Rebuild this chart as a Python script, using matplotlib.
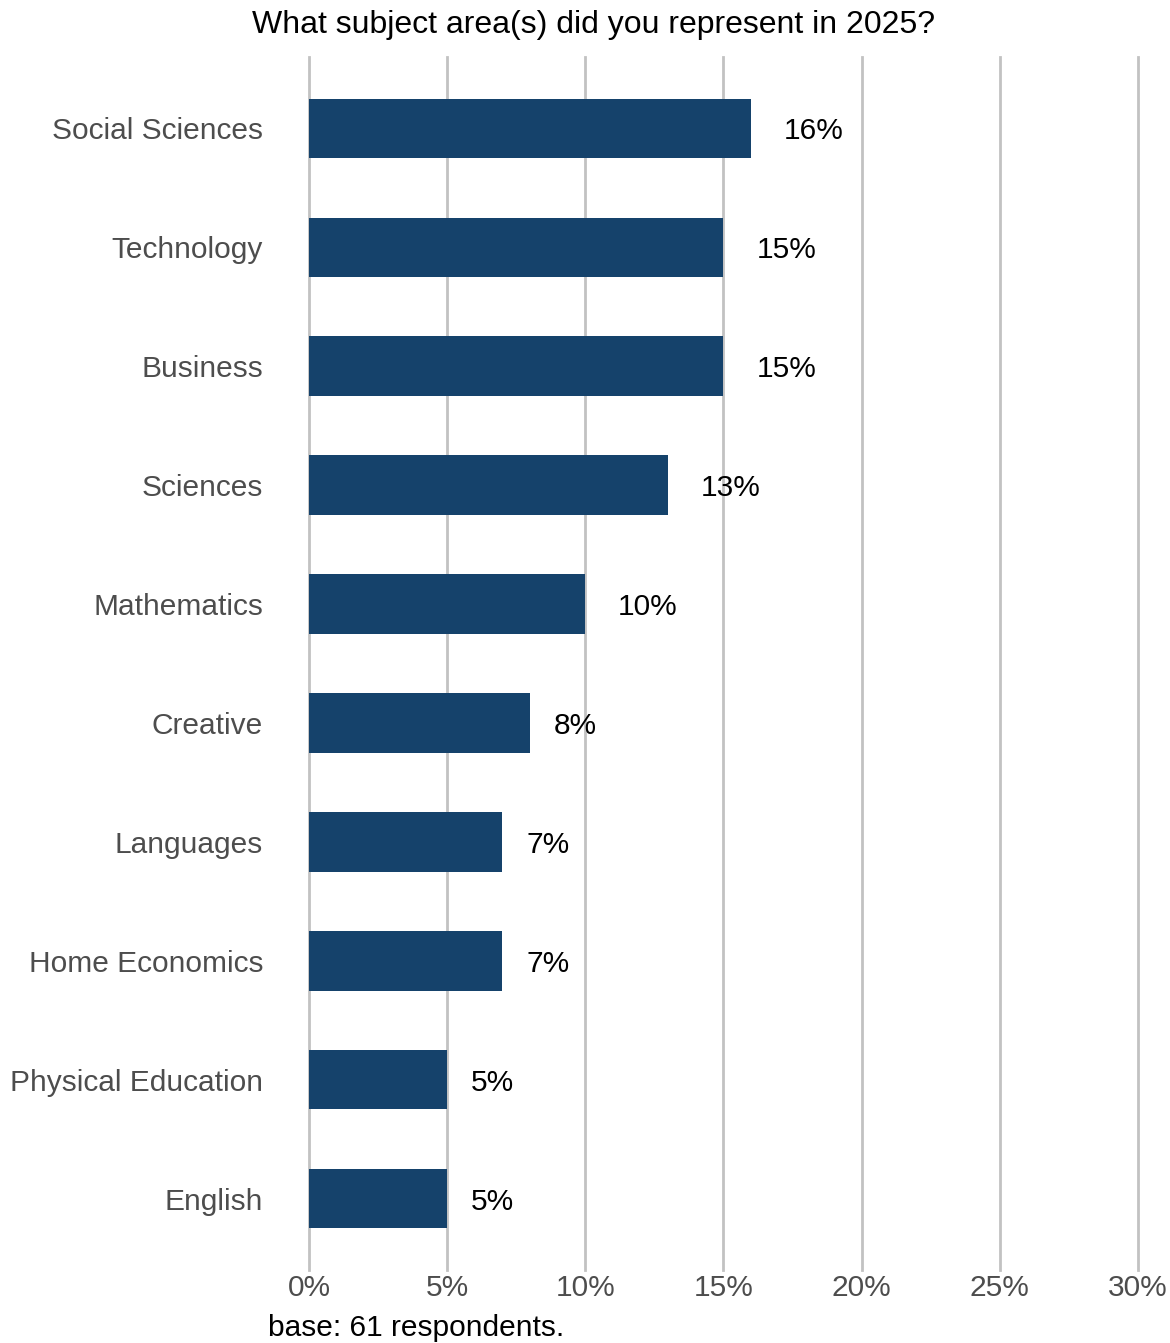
import matplotlib
matplotlib.use("Agg")
import matplotlib.pyplot as plt
import matplotlib.transforms as mt

categories = ["Social Sciences", "Technology", "Business", "Sciences", "Mathematics",
              "Creative", "Languages", "Home Economics", "Physical Education", "English"]
values = [16, 15, 15, 13, 10, 8, 7, 7, 5, 5]
xticks = [0, 5, 10, 15, 20, 25, 30]
xticklabels = ["0%", "5%", "10%", "15%", "20%", "25%", "30%"]
title = "What subject area(s) did you represent in 2025?"
caption = "base: 61 respondents."

plt.rcParams['font.family'] = ['Liberation Sans', 'DejaVu Sans']

W, H = 1170, 1343
fig = plt.figure(figsize=(W / 100, H / 100), dpi=100)
left, right = 309 / W, 1138 / W
top, bottom = 1 - 57 / H, 1 - 1270 / H
ax = fig.add_axes([left, bottom, right - left, top - bottom])

FS = 21.5
n = len(categories)
ypos = list(range(n))[::-1]
for g in xticks:
    ax.axvline(g, color="#c2c2c2", lw=2, zorder=0, clip_on=False)
ax.barh(ypos, values, height=0.5, color="#15426b", zorder=2)
ax.set_xlim(0, 30)
ax.set_ylim(-0.6, n - 1 + 0.6)
ax.set_yticks(ypos)
ax.set_yticklabels(categories, fontsize=FS, color="#4d4d4d")
ax.set_xticks(xticks)
ax.set_xticklabels(xticklabels, fontsize=FS, color="#4d4d4d")
ax.tick_params(axis='y', length=0, pad=33)
ax.tick_params(axis='x', length=0, pad=3)
for s in ax.spines.values():
    s.set_visible(False)

fig.canvas.draw()
renderer = fig.canvas.get_renderer()
for y, v in zip(ypos, values):
    t = ax.text(v, y, f"{v}%", fontsize=FS, color="black", ha="left",
                va="center_baseline", zorder=3)
    w = t.get_window_extent(renderer).width
    t.set_transform(ax.transData + mt.ScaledTranslation(0.55 * w / 100, 0, fig.dpi_scale_trans))

fig.text(594 / W, 1 - 25 / H, title, fontsize=23, ha="center", va="center", color="black")
fig.text(268 / W, 1 - 1328 / H, caption, fontsize=FS, ha="left", va="center", color="black")

fig.savefig("out.png", dpi=100, facecolor="white")
